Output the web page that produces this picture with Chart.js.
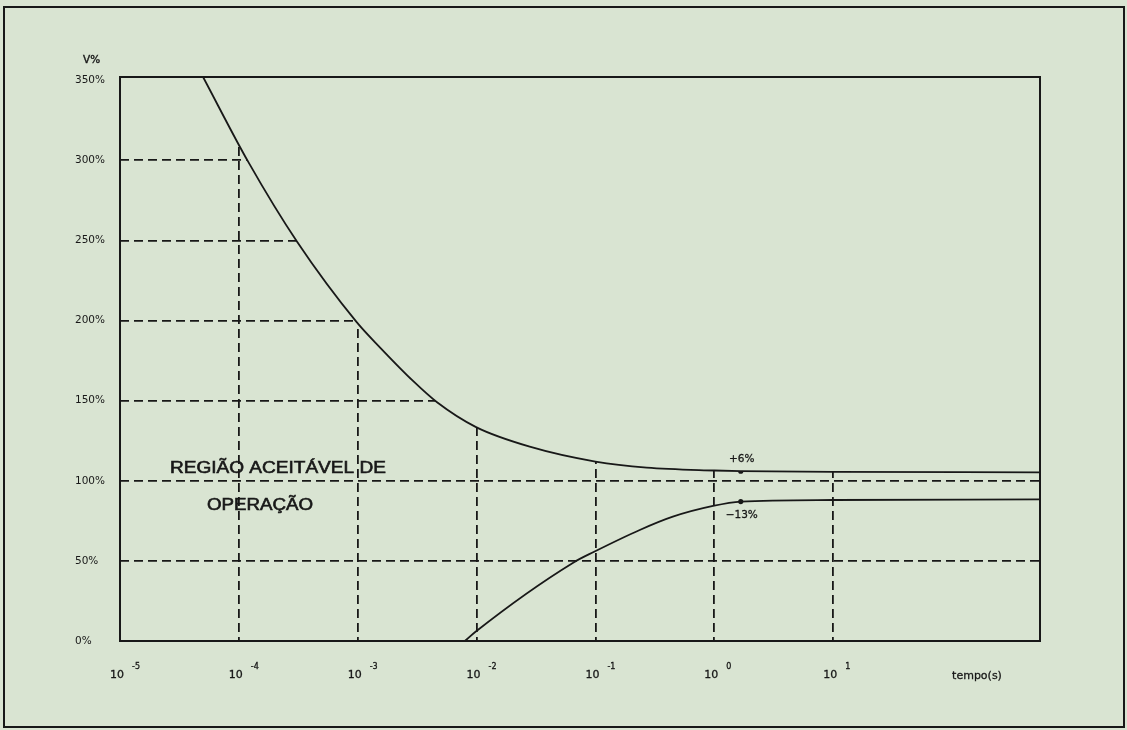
<!DOCTYPE html>
<html>
<head>
<meta charset="utf-8">
<script src="https://cdn.jsdelivr.net/npm/chart.js@4.4.1/dist/chart.umd.min.js"></script>
<style>
  html, body { margin: 0; padding: 0; background: #d9e4d2; }
  canvas { display: block; }
</style>
</head>
<body>
<canvas id="curva" width="1127" height="730"></canvas>
<script>
// Curva de tolerância de tensão: V% em função do tempo (escala logarítmica)
const xTicks = [1e-5, 1e-4, 1e-3, 1e-2, 1e-1, 1, 10];
const xExponents = ['-5', '-4', '-3', '-2', '-1', '0', '1'];
const yTicks = [0, 50, 100, 150, 200, 250, 300, 350];

// limite superior (sobretensão)
const upperTime = [5.0e-5, 1.2e-4, 3.1e-4, 9.8e-4, 1.55e-3, 2.95e-3, 4.65e-3, 9.9e-3, 0.028, 0.1, 0.27, 1.0, 1.67, 10, 550];
const upperPct  = [352, 299, 249, 199, 183, 162, 149, 133.5, 121.3, 112, 108.2, 106.4, 106, 105.5, 105.3];

// limite inferior (subtensão)
const lowerTime = [7.97e-3, 9.8e-3, 0.065, 0.0975, 0.236, 0.448, 0.977, 1.67, 10, 550];
const lowerPct  = [0, 5.8, 48.9, 55.7, 69.3, 77.6, 84.3, 87, 88, 88.4];

// pontos marcados em regime permanente
const markTime = [1.67, 1.67];
const markPct = [106, 87];
const markLabels = ['+6%', '\u221213%'];

const BG = '#d9e4d2';
const INK = '#181818';

const toPoints = (xs, ys) => xs.map((x, i) => ({ x: x, y: ys[i] }));

// texto com traço levemente reforçado
function inkText(ctx, text, x, y, weight) {
  ctx.fillText(text, x, y);
  if (weight) {
    ctx.lineWidth = weight;
    ctx.strokeText(text, x, y);
  }
}

const decorations = {
  id: 'decorations',
  beforeDraw(chart) {
    const ctx = chart.ctx;
    ctx.save();
    ctx.fillStyle = BG;
    ctx.fillRect(0, 0, chart.width, chart.height);
    ctx.restore();
  },
  afterDatasetsDraw(chart) {
    const ctx = chart.ctx;
    const a = chart.chartArea;
    ctx.save();
    ctx.strokeStyle = INK;
    ctx.lineWidth = 2;
    ctx.strokeRect(a.left, a.top, a.right - a.left, a.bottom - a.top);
    ctx.restore();
  },
  afterDraw(chart) {
    const ctx = chart.ctx;
    const xs = chart.scales.x;
    ctx.save();
    ctx.fillStyle = INK;
    ctx.strokeStyle = INK;

    // rótulo do eixo vertical
    ctx.font = '10.5px "DejaVu Sans"';
    ctx.textAlign = 'left';
    ctx.textBaseline = 'middle';
    inkText(ctx, 'V%', 83, 60, 0.4);

    // rótulos do eixo do tempo: potências de dez
    xTicks.forEach((v, i) => {
      const px = xs.getPixelForValue(v);
      ctx.font = '11px "DejaVu Sans"';
      ctx.textAlign = 'center';
      inkText(ctx, '10', px - 3, 675, 0.3);
      ctx.font = '8px "DejaVu Sans"';
      ctx.textAlign = 'left';
      inkText(ctx, xExponents[i], px + 12, 667, 0.3);
    });
    ctx.font = '11px "DejaVu Sans"';
    ctx.textAlign = 'center';
    inkText(ctx, 'tempo(s)', 977, 676, 0.3);

    // valores dos pontos marcados
    const meta = chart.getDatasetMeta(2);
    ctx.font = '10.5px "DejaVu Sans"';
    meta.data.forEach((p, i) => {
      const dy = i === 0 ? -12 : 14;
      inkText(ctx, markLabels[i], p.x + 1, p.y + dy, 0.3);
    });

    // região aceitável
    ctx.font = '16px "Liberation Sans"';
    ctx.textAlign = 'left';
    ctx.save();
    ctx.translate(170, 469);
    ctx.scale(1.19, 1);
    inkText(ctx, 'REGIÃO ACEITÁVEL DE', 0, 0, 0.6);
    ctx.restore();
    ctx.save();
    ctx.translate(207, 506);
    ctx.scale(1.17, 1);
    inkText(ctx, 'OPERAÇÃO', 0, 0, 0.6);
    ctx.restore();

    // moldura externa
    ctx.lineWidth = 2;
    ctx.strokeRect(4, 7, 1120, 720);
    ctx.restore();
  }
};

new Chart(document.getElementById('curva'), {
  type: 'scatter',
  data: {
    datasets: [
      {
        label: 'limite superior',
        data: toPoints(upperTime, upperPct),
        showLine: true,
        borderColor: INK,
        borderWidth: 1.8,
        pointRadius: 0,
        cubicInterpolationMode: 'monotone',
        fill: 'end',
        backgroundColor: BG
      },
      {
        label: 'limite inferior',
        data: toPoints(lowerTime, lowerPct),
        showLine: true,
        borderColor: INK,
        borderWidth: 1.8,
        pointRadius: 0,
        cubicInterpolationMode: 'monotone',
        fill: false
      },
      {
        label: 'marcas',
        data: toPoints(markTime, markPct),
        showLine: false,
        pointRadius: 2.6,
        pointBackgroundColor: INK,
        pointBorderWidth: 0
      }
    ]
  },
  options: {
    responsive: false,
    animation: false,
    devicePixelRatio: 1,
    layout: { padding: { top: 77, right: 87, left: 75, bottom: 0 } },
    plugins: {
      legend: { display: false },
      tooltip: { enabled: false },
      filler: { propagate: false }
    },
    scales: {
      x: {
        type: 'logarithmic',
        min: 1e-5,
        max: 550,
        afterBuildTicks: (s) => { s.ticks = xTicks.map(v => ({ value: v })); },
        afterFit: (s) => { s.height = 89; },
        ticks: { display: false },
        grid: {
          drawTicks: false,
          lineWidth: 1.8,
          color: (c) => (c.tick && c.tick.value === xTicks[0]) ? 'rgba(0,0,0,0)' : INK
        },
        border: { display: false, dash: [9, 5] }
      },
      y: {
        min: 0,
        max: 352,
        afterBuildTicks: (s) => { s.ticks = yTicks.map(v => ({ value: v })); },
        afterFit: (s) => { s.width = 45; },
        ticks: {
          crossAlign: 'far',
          padding: 0,
          color: INK,
          font: { family: 'DejaVu Sans', size: 10.5 },
          callback: (v) => v + '%'
        },
        grid: {
          drawTicks: false,
          lineWidth: 1.8,
          color: (c) => (c.tick && (c.tick.value === 0 || c.tick.value === 350)) ? 'rgba(0,0,0,0)' : INK
        },
        border: { display: false, dash: [9, 5] }
      }
    }
  },
  plugins: [decorations]
});
</script>
</body>
</html>
